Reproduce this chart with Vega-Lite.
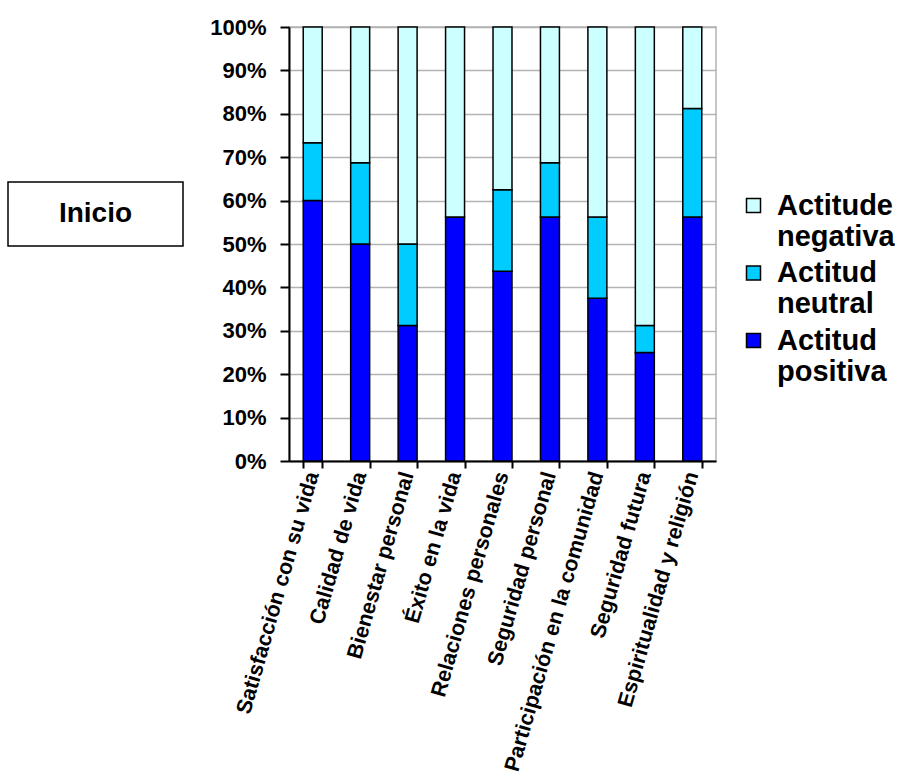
{
  "$schema": "https://vega.github.io/schema/vega-lite/v6.json",
  "padding": {"left": 7, "top": 15, "right": 0, "bottom": 0},
  "config": {"font": "Liberation Sans", "view": {"stroke": null}},
  "spacing": 24,
  "hconcat": [
    {
      "spacing": 0,
      "vconcat": [
        {"width": 175, "height": 154, "data": {"values": []}, "mark": "text", "encoding": {}},
        {
          "width": 175, "height": 64,
          "view": {"stroke": "black", "strokeWidth": 1.5},
          "data": {"values": [{"t": "Inicio"}]},
          "mark": {"type": "text", "fontSize": 28, "fontWeight": "bold", "color": "black"},
          "encoding": {"text": {"field": "t"}}
        }
      ]
    },
    {
      "width": 427,
      "height": 434,
      "view": {"stroke": "#b3b3b3", "strokeWidth": 1.5},
      "data": {"values": [
        {"dimension": "Satisfacción con su vida", "actitud": "Actitud positiva", "orden": 1, "pct": 60.0},
        {"dimension": "Satisfacción con su vida", "actitud": "Actitud neutral", "orden": 2, "pct": 13.33},
        {"dimension": "Satisfacción con su vida", "actitud": "Actitude negativa", "orden": 3, "pct": 26.67},
        {"dimension": "Calidad de vida", "actitud": "Actitud positiva", "orden": 1, "pct": 50.0},
        {"dimension": "Calidad de vida", "actitud": "Actitud neutral", "orden": 2, "pct": 18.75},
        {"dimension": "Calidad de vida", "actitud": "Actitude negativa", "orden": 3, "pct": 31.25},
        {"dimension": "Bienestar personal", "actitud": "Actitud positiva", "orden": 1, "pct": 31.25},
        {"dimension": "Bienestar personal", "actitud": "Actitud neutral", "orden": 2, "pct": 18.75},
        {"dimension": "Bienestar personal", "actitud": "Actitude negativa", "orden": 3, "pct": 50.0},
        {"dimension": "Éxito en la vida", "actitud": "Actitud positiva", "orden": 1, "pct": 56.25},
        {"dimension": "Éxito en la vida", "actitud": "Actitud neutral", "orden": 2, "pct": 0.0},
        {"dimension": "Éxito en la vida", "actitud": "Actitude negativa", "orden": 3, "pct": 43.75},
        {"dimension": "Relaciones personales", "actitud": "Actitud positiva", "orden": 1, "pct": 43.75},
        {"dimension": "Relaciones personales", "actitud": "Actitud neutral", "orden": 2, "pct": 18.75},
        {"dimension": "Relaciones personales", "actitud": "Actitude negativa", "orden": 3, "pct": 37.5},
        {"dimension": "Seguridad personal", "actitud": "Actitud positiva", "orden": 1, "pct": 56.25},
        {"dimension": "Seguridad personal", "actitud": "Actitud neutral", "orden": 2, "pct": 12.5},
        {"dimension": "Seguridad personal", "actitud": "Actitude negativa", "orden": 3, "pct": 31.25},
        {"dimension": "Participación en la comunidad", "actitud": "Actitud positiva", "orden": 1, "pct": 37.5},
        {"dimension": "Participación en la comunidad", "actitud": "Actitud neutral", "orden": 2, "pct": 18.75},
        {"dimension": "Participación en la comunidad", "actitud": "Actitude negativa", "orden": 3, "pct": 43.75},
        {"dimension": "Seguridad futura", "actitud": "Actitud positiva", "orden": 1, "pct": 25.0},
        {"dimension": "Seguridad futura", "actitud": "Actitud neutral", "orden": 2, "pct": 6.25},
        {"dimension": "Seguridad futura", "actitud": "Actitude negativa", "orden": 3, "pct": 68.75},
        {"dimension": "Espiritualidad y religión", "actitud": "Actitud positiva", "orden": 1, "pct": 56.25},
        {"dimension": "Espiritualidad y religión", "actitud": "Actitud neutral", "orden": 2, "pct": 25.0},
        {"dimension": "Espiritualidad y religión", "actitud": "Actitude negativa", "orden": 3, "pct": 18.75}
      ]},
      "mark": {"type": "bar", "stroke": "black", "strokeWidth": 1.5},
      "encoding": {
        "x": {
          "field": "dimension", "type": "nominal", "sort": null,
          "scale": {"paddingInner": 0.6, "paddingOuter": 0.3},
          "axis": {
            "title": null, "labelAngle": -74, "labelFontSize": 21.5, "labelFontWeight": "bold",
            "labelColor": "black", "labelLimit": 0, "labelPadding": 4,
            "tickBand": "extent", "tickSize": 7, "tickWidth": 2, "tickColor": "black",
            "domainColor": "black", "domainWidth": 2
          }
        },
        "y": {
          "field": "pct", "type": "quantitative", "stack": "normalize",
          "scale": {"domain": [0, 1]},
          "axis": {
            "title": null, "format": ".0%",
            "values": [0, 0.1, 0.2, 0.3, 0.4, 0.5, 0.6, 0.7, 0.8, 0.9, 1],
            "labelFontSize": 22, "labelFontWeight": "bold", "labelColor": "black",
            "tickSize": 9, "tickColor": "black", "tickWidth": 2,
            "gridColor": "#b3b3b3", "gridWidth": 1.5,
            "domainColor": "black", "domainWidth": 2, "labelPadding": 14
          }
        },
        "color": {
          "field": "actitud", "type": "nominal",
          "scale": {
            "domain": ["Actitude negativa", "Actitud neutral", "Actitud positiva"],
            "range": ["#CCFFFF", "#00CCFF", "#0000FF"]
          },
          "legend": {
            "title": null, "orient": "none", "legendX": 731, "legendY": 164,
            "symbolType": "square", "symbolSize": 196, "symbolStrokeColor": "black",
            "symbolStrokeWidth": 1.5, "labelFontSize": 29, "labelFontWeight": "bold",
            "labelColor": "black", "labelExpr": "split(datum.label, ' ')",
            "labelOffset": 9, "rowPadding": 6.5, "labelLimit": 0, "padding": 0
          }
        },
        "order": {"field": "orden", "type": "quantitative"}
      }
    }
  ]
}
